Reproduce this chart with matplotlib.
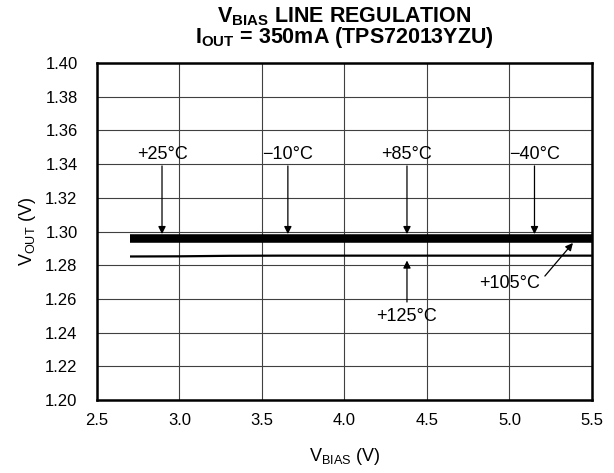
import numpy as np
import matplotlib.pyplot as plt

plt.rcParams['font.family'] = ['Liberation Sans', 'DejaVu Sans']
plt.rcParams['mathtext.fontset'] = 'custom'
plt.rcParams['mathtext.rm'] = 'Liberation Sans'
plt.rcParams['mathtext.bf'] = 'Liberation Sans:bold'

# data
vbias = [2.7, 3.0, 3.3, 3.6, 4.0, 4.5, 5.0, 5.5]
v_m40 = [1.2949, 1.2949, 1.2949, 1.2949, 1.2949, 1.2949, 1.2949, 1.2949]
v_m10 = [1.2954, 1.2954, 1.2954, 1.2954, 1.2954, 1.2954, 1.2954, 1.2954]
v_25 = [1.2958, 1.2958, 1.2958, 1.2958, 1.2958, 1.2958, 1.2958, 1.2958]
v_85 = [1.2963, 1.2963, 1.2963, 1.2963, 1.2963, 1.2963, 1.2963, 1.2963]
v_105 = [1.2967, 1.2967, 1.2967, 1.2967, 1.2967, 1.2967, 1.2967, 1.2967]
v_125 = [1.2852, 1.2853, 1.2856, 1.2857, 1.2857, 1.2857, 1.2857, 1.2857]

fig = plt.figure(figsize=(6.14, 4.73), dpi=100)
ax = fig.add_axes([0.158, 0.154, 0.806, 0.713])

for v in [v_m40, v_m10, v_25, v_85, v_105]:
    ax.plot(vbias, v, color='black', lw=4, solid_capstyle='butt')
ax.plot(vbias, v_125, color='black', lw=1.6, solid_capstyle='butt')

ax.set_xlim(2.5, 5.5)
ax.set_ylim(1.20, 1.40)
ax.set_xticks(np.arange(2.5, 5.51, 0.5))
ax.set_yticks(np.arange(1.20, 1.401, 0.02))
ax.xaxis.set_major_formatter(plt.FormatStrFormatter('%.1f'))
ax.yaxis.set_major_formatter(plt.FormatStrFormatter('%.2f'))
ax.grid(True, color='0.25', lw=0.8)
ax.tick_params(axis='y', length=0, labelsize=12, pad=14)
ax.tick_params(axis='x', length=0, labelsize=12, pad=9)
for s in ax.spines.values():
    s.set_linewidth(1.8)

arrow = dict(arrowstyle='-|>', color='black', lw=0.9, mutation_scale=11, shrinkA=0, shrinkB=0)
for lbl, x in [('+25°C', 2.894), ('\u221210°C', 3.657), ('+85°C', 4.379), ('\u221240°C', 5.152)]:
    ax.text(x, 1.3454, lbl, ha='center', va='center', fontsize=13)
    ax.annotate('', xy=(x, 1.2985), xytext=(x, 1.3389), arrowprops=arrow)
ax.text(4.379, 1.2498, '+125°C', ha='center', va='center', fontsize=13)
ax.annotate('', xy=(4.379, 1.2828), xytext=(4.379, 1.2582), arrowprops=arrow)
ax.text(5.003, 1.2694, '+105°C', ha='center', va='center', fontsize=13)
ax.annotate('', xy=(5.385, 1.2932), xytext=(5.215, 1.2736), arrowprops=arrow)

ax.set_xlabel(r'V$_{\mathrm{BIAS}}$ (V)', fontsize=13, labelpad=13)
ax.set_ylabel(r'V$_{\mathrm{OUT}}$ (V)', fontsize=13, labelpad=5)
ax.set_title(r'V$_{\mathbf{BIAS}}$ LINE REGULATION' + '\n' + r'I$_{\mathbf{OUT}}$ = 350mA (TPS72013YZU)',
             fontsize=15.5, fontweight='bold', linespacing=0.85, pad=14)

fig.savefig('out.png', dpi=100)
